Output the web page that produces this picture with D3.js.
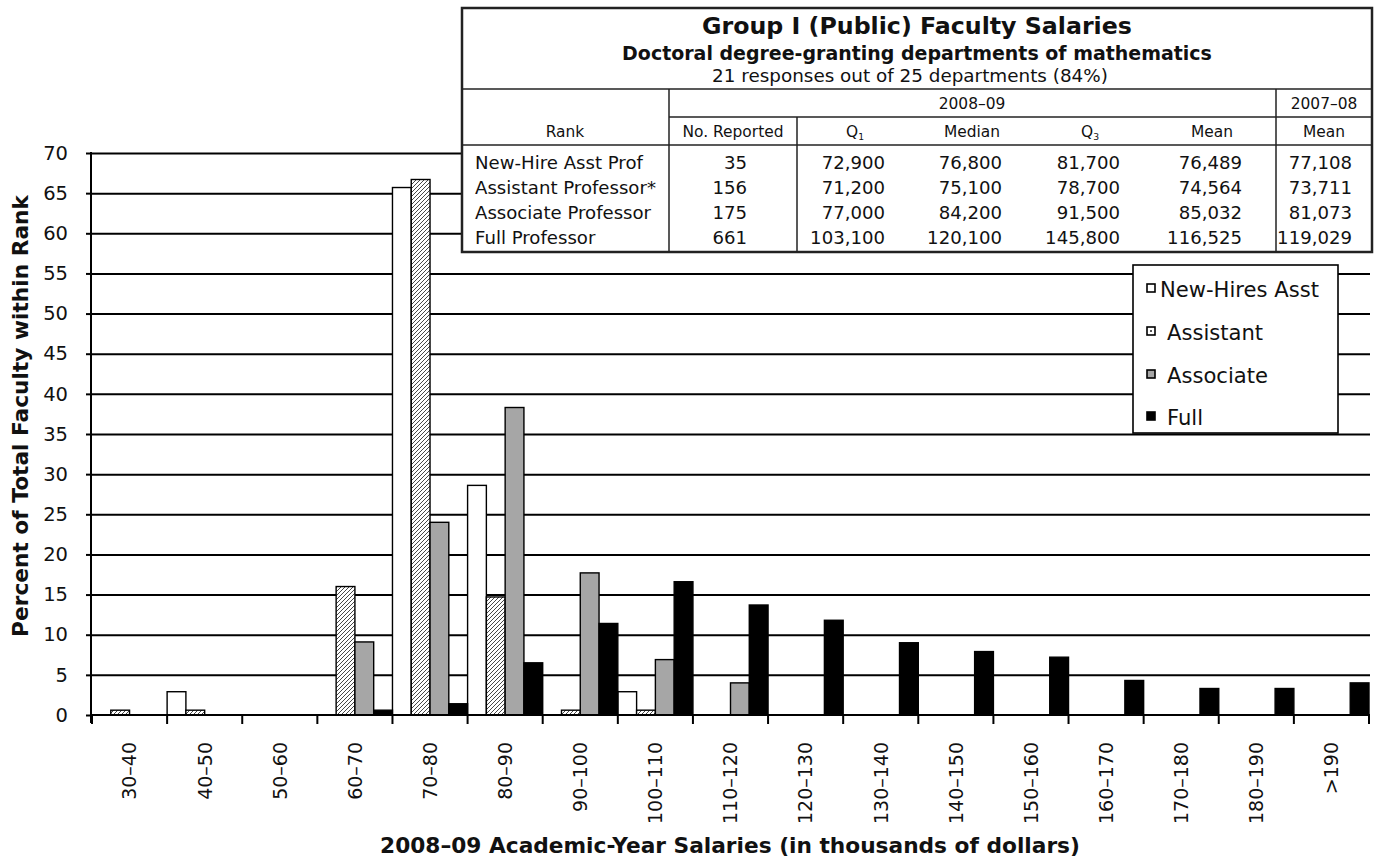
<!DOCTYPE html>
<html><head><meta charset="utf-8">
<script src="https://cdn.jsdelivr.net/npm/d3@7"></script>
<style>
body{margin:0;background:#fff}
svg{display:block}
text{font-family:"DejaVu Sans",sans-serif;fill:#111}
</style>
</head><body>
<svg id="c" width="1382" height="864"></svg>
<script>
// ---------- data ----------
const categories = ["30–40","40–50","50–60","60–70","70–80","80–90","90–100","100–110","110–120","120–130","130–140","140–150","150–160","160–170","170–180","180–190",">190"];
const seriesNames = ["New-Hires Asst","Assistant","Associate","Full"];
const newHires  = [0, 2.9, 0, 0, 65.7, 28.6, 0, 2.9, 0, 0, 0, 0, 0, 0, 0, 0, 0];
const assistant = [0.6, 0.6, 0, 16.0, 66.7, 14.7, 0.6, 0.6, 0, 0, 0, 0, 0, 0, 0, 0, 0];
const associate = [0, 0, 0, 9.1, 24.0, 38.3, 17.7, 6.9, 4.0, 0, 0, 0, 0, 0, 0, 0, 0];
const full      = [0, 0, 0, 0.6, 1.4, 6.5, 11.4, 16.6, 13.7, 11.8, 9.0, 7.9, 7.2, 4.3, 3.3, 3.3, 4.0];
const yTicks = [0, 5, 10, 15, 20, 25, 30, 35, 40, 45, 50, 55, 60, 65, 70];

const tableRanks   = ["New-Hire Asst Prof","Assistant Professor*","Associate Professor","Full Professor"];
const tableN       = ["35","156","175","661"];
const tableQ1      = ["72,900","71,200","77,000","103,100"];
const tableMedian  = ["76,800","75,100","84,200","120,100"];
const tableQ3      = ["81,700","78,700","91,500","145,800"];
const tableMean    = ["76,489","74,564","85,032","116,525"];
const tableMeanPrev= ["77,108","73,711","81,073","119,029"];

const titleText = "Group I (Public) Faculty Salaries";
const subtitleText = "Doctoral degree-granting departments of mathematics";
const responsesText = "21 responses out of 25 departments (84%)";
const yTitle = "Percent of Total Faculty within Rank";
const xTitle = "2008–09 Academic-Year Salaries (in thousands of dollars)";

// ---------- setup ----------
const svg = d3.select("#c");
const defs = svg.append("defs");
const pat = defs.append("pattern").attr("id","hatch").attr("patternUnits","userSpaceOnUse")
  .attr("width",4).attr("height",4);
pat.append("rect").attr("width",4).attr("height",4).attr("fill","#fff");
pat.append("path").attr("d","M-1,1 l2,-2 M0,4 l4,-4 M3,5 l2,-2").attr("stroke","#333").attr("stroke-width",0.9);

const fills = {"New-Hires Asst":"#fff","Assistant":"url(#hatch)","Associate":"#a6a6a6","Full":"#000"};
const seriesData = {"New-Hires Asst":newHires,"Assistant":assistant,"Associate":associate,"Full":full};

function fit(sel, w){
  const L = sel.node().getComputedTextLength();
  const fs = parseFloat(sel.attr("font-size"));
  sel.attr("font-size", (fs*w/L).toFixed(2));
  return fs*w/L;
}

const X0 = 92, X1 = 1369, Y0 = 715, Y1 = 153;
const x = d3.scaleBand().domain(categories).range([X0, X1]).padding(0);
const sub = d3.scaleBand().domain(seriesNames).range([0, x.bandwidth()]).padding(0);
const y = d3.scaleLinear().domain([0, 70]).range([Y0, Y1]);

// gridlines
const grid = svg.append("g").attr("transform",`translate(${X0-1},0)`)
  .call(d3.axisLeft(y).tickValues(yTicks.slice(1)).tickSize(-(X1-X0+2)).tickFormat(""));
grid.select(".domain").remove();
grid.selectAll("line").attr("stroke","#000").attr("stroke-width",2);

// bars
seriesNames.forEach(s => {
  const vals = seriesData[s];
  svg.append("g").selectAll("rect")
    .data(categories.map((c,i)=>({c, v:vals[i]})).filter(d=>d.v>0))
    .join("rect")
    .attr("x", d => x(d.c) + sub(s))
    .attr("width", sub.bandwidth())
    .attr("y", d => y(d.v))
    .attr("height", d => Y0 - y(d.v))
    .attr("fill", fills[s])
    .attr("stroke","#000").attr("stroke-width",1.4);
});

// y axis
const yAx = svg.append("g").attr("transform",`translate(${X0-1},0)`)
  .call(d3.axisLeft(y).tickValues(yTicks).tickSize(5).tickPadding(18));
yAx.select(".domain").remove();
yAx.selectAll("line").attr("stroke","#000").attr("stroke-width",2);
yAx.selectAll("text").attr("font-size",19.5).attr("font-family","DejaVu Sans").attr("fill","#111");
svg.append("line").attr("x1",X0-1).attr("x2",X0-1).attr("y1",Y1-1).attr("y2",Y0+8)
  .attr("stroke","#000").attr("stroke-width",2);

// x axis
svg.append("line").attr("x1",X0-2).attr("x2",X1+1).attr("y1",Y0).attr("y2",Y0)
  .attr("stroke","#000").attr("stroke-width",2);
svg.append("g").selectAll("line").data(categories.map(c=>x(c)).concat([X1]))
  .join("line").attr("x1",d=>d).attr("x2",d=>d).attr("y1",Y0).attr("y2",Y0+9)
  .attr("stroke","#000").attr("stroke-width",2);
const xAx = svg.append("g").attr("transform",`translate(0,${Y0})`)
  .call(d3.axisBottom(x).tickSize(0).tickPadding(0));
xAx.select(".domain").remove();
xAx.selectAll("text").attr("font-size",19).attr("font-family","DejaVu Sans").attr("fill","#111")
  .attr("text-anchor","end").attr("dy","0.36em").attr("y",0)
  .attr("transform","translate(0,27) rotate(-90)");

// axis titles
const yt = svg.append("text").attr("font-weight","bold").attr("font-size",20)
  .attr("text-anchor","middle").attr("transform","translate(28,416) rotate(-90)").text(yTitle);
fit(yt, 442);
const xt = svg.append("text").attr("font-weight","bold").attr("font-size",18)
  .attr("text-anchor","middle").attr("x",730).attr("y",853).text(xTitle);
fit(xt, 700);

// ---------- table ----------
const T = svg.append("g");
const TL = 462, TR = 1372, TT = 8, TB = 252;
T.append("rect").attr("x",TL).attr("y",TT).attr("width",TR-TL).attr("height",TB-TT)
  .attr("fill","#fff").attr("stroke","#222").attr("stroke-width",2.5);
const tl = (x1,y1,x2,y2,w)=>T.append("line").attr("x1",x1).attr("y1",y1).attr("x2",x2).attr("y2",y2)
  .attr("stroke","#222").attr("stroke-width",w||1.5);
tl(TL,89,TR,89); tl(669,117,TR,117); tl(TL,145,TR,145);
tl(669,89,669,TB); tl(797,117,797,TB); tl(1276,89,1276,TB);

const t1 = T.append("text").attr("font-weight","bold").attr("font-size",22).attr("text-anchor","middle")
  .attr("x",917).attr("y",34).text(titleText);
fit(t1, 430);
const t2 = T.append("text").attr("font-weight","bold").attr("font-size",16).attr("text-anchor","middle")
  .attr("x",917).attr("y",60).text(subtitleText);
fit(t2, 590);
const t3 = T.append("text").attr("font-size",14).attr("text-anchor","middle")
  .attr("x",910).attr("y",82).text(responsesText);
fit(t3, 396);

// header
const nr = T.append("text").attr("font-size",14).attr("text-anchor","middle").attr("x",733).attr("y",137).text("No. Reported");
const hdr = fit(nr, 101);
T.append("text").attr("font-size",hdr).attr("text-anchor","middle").attr("x",972).attr("y",109).text("2008–09");
T.append("text").attr("font-size",hdr).attr("text-anchor","middle").attr("x",1324).attr("y",109).text("2007–08");
const heads = [["Rank",565],["Q|1",855],["Median",972],["Q|3",1090],["Mean",1212],["Mean",1324]];
heads.forEach(([h,cx])=>{
  const t = T.append("text").attr("font-size",hdr).attr("text-anchor","middle").attr("x",cx).attr("y",137);
  if (h.includes("|")) {
    const [a,b] = h.split("|");
    t.append("tspan").text(a);
    t.append("tspan").attr("font-size",hdr*0.6).attr("dy",3).text(b);
  } else t.text(h);
});

const rowY = [169, 194, 219, 244];
const r0 = T.append("text").attr("font-size",16).attr("x",475).attr("y",rowY[0]).text(tableRanks[0]);
const rowFs = fit(r0, 168);
tableRanks.forEach((r,i)=>{ if(i>0) T.append("text").attr("font-size",rowFs).attr("x",475).attr("y",rowY[i]).text(r); });
const cols = [[tableN,747],[tableQ1,885],[tableMedian,1002],[tableQ3,1120],[tableMean,1242],[tableMeanPrev,1352]];
cols.forEach(([arr,rx])=>{
  arr.forEach((v,i)=>T.append("text").attr("font-size",rowFs).attr("text-anchor","end")
    .attr("x",rx).attr("y",rowY[i]).text(v));
});

// ---------- legend ----------
const L = svg.append("g");
L.append("rect").attr("x",1133).attr("y",265).attr("width",205).attr("height",168)
  .attr("fill","#fff").attr("stroke","#000").attr("stroke-width",1.6);
const legY = [297, 340, 383, 425];
let legFs = 17;
seriesNames.forEach((s,i)=>{
  L.append("rect").attr("x",1147).attr("y",legY[i]-13).attr("width",8).attr("height",8)
    .attr("fill", s==="Assistant" ? "#fff" : fills[s]).attr("stroke","#000").attr("stroke-width",1.6);
  if (s==="Assistant") L.append("rect").attr("x",1150).attr("y",legY[i]-10).attr("width",2).attr("height",2).attr("fill","#555");
  const t = L.append("text").attr("font-size",legFs).attr("x", i===0?1160:1167).attr("y",legY[i]).text(s);
  if (i===0) legFs = fit(t, 159);
});
</script>
</body></html>
